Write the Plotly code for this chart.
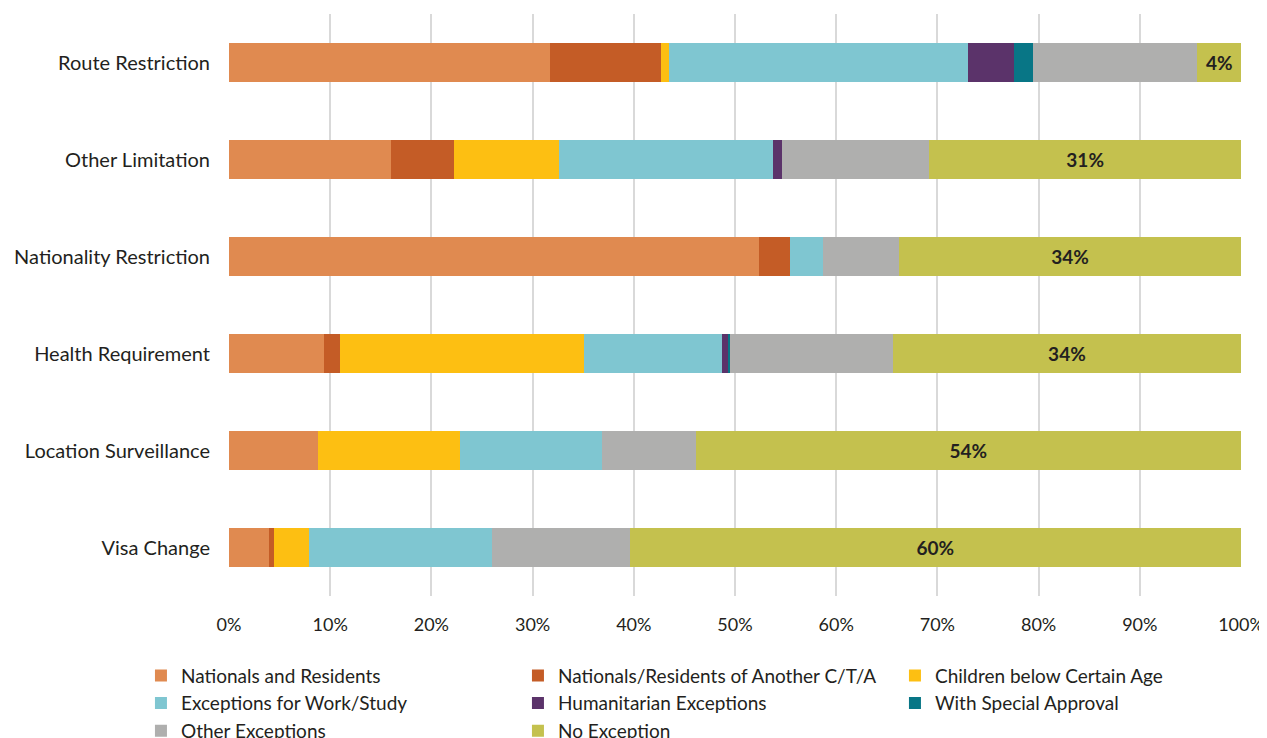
import plotly.graph_objects as go

categories = ["Route Restriction", "Other Limitation", "Nationality Restriction",
              "Health Requirement", "Location Surveillance", "Visa Change"]

series_names = ["Nationals and Residents", "Nationals/Residents of Another C/T/A",
                "Children below Certain Age", "Exceptions for Work/Study",
                "Humanitarian Exceptions", "With Special Approval",
                "Other Exceptions", "No Exception"]

nationals_residents = [31.7, 16.0, 52.4, 9.4, 8.8, 4.0]
nationals_other = [11.0, 6.2, 3.0, 1.6, 0.0, 0.4]
children = [0.8, 10.4, 0.0, 24.1, 14.0, 3.5]
work_study = [29.5, 21.2, 3.3, 13.6, 14.1, 18.1]
humanitarian = [4.6, 0.8, 0.0, 0.6, 0.0, 0.0]
special_approval = [1.8, 0.0, 0.0, 0.2, 0.0, 0.0]
other_exceptions = [16.3, 14.6, 7.5, 16.1, 9.2, 13.6]
no_exception = [4.3, 30.8, 33.8, 34.4, 53.9, 60.4]

colors = ["#E08A50", "#C45C26", "#FDBF12", "#7FC6D1",
          "#5B336A", "#087686", "#AFAFAE", "#C4C14E"]

all_series = [nationals_residents, nationals_other, children, work_study,
              humanitarian, special_approval, other_exceptions, no_exception]

FONT = "Lato, 'Open Sans', sans-serif"

fig = go.Figure()
for name, vals, col in zip(series_names, all_series, colors):
    kw = {}
    if name == "No Exception":
        kw = dict(
            text=[f"{round(v)}%" for v in vals],
            textposition="inside",
            insidetextanchor="middle",
            textangle=0,
            textfont=dict(family=FONT, size=19, color="#231F20", weight="bold"),
        )
    fig.add_trace(go.Bar(
        y=categories, x=vals, name=name, orientation="h",
        marker=dict(color=col, line=dict(width=0)),
        width=0.41, hoverinfo="x+name", **kw
    ))

# page body has an 8px margin, so the figure is offset by 8px
fig.update_layout(
    barmode="stack",
    width=1259, height=730,
    plot_bgcolor="white", paper_bgcolor="white",
    margin=dict(l=221, r=26, t=6, b=142, autoexpand=False),
    font=dict(family=FONT, size=19, color="#231F20"),
    uniformtext=dict(minsize=19, mode="show"),
    legend=dict(
        orientation="h",
        x=-0.087, xanchor="left",
        y=-0.104, yanchor="top",
        entrywidth=332,
        itemwidth=30,
        traceorder="normal",
        font=dict(family=FONT, size=19, color="#231F20"),
        tracegroupgap=0,
    ),
    xaxis=dict(
        range=[0, 100],
        tickvals=[0, 10, 20, 30, 40, 50, 60, 70, 80, 90, 100],
        ticktext=[f"{v}%" for v in range(0, 101, 10)],
        showgrid=True, gridcolor="#D9D9D9", gridwidth=1.5,
        zeroline=False,
        ticks="outside", ticklen=12, tickcolor="rgba(0,0,0,0)",
        tickfont=dict(family=FONT, size=18),
        fixedrange=True,
    ),
    yaxis=dict(
        categoryorder="array", categoryarray=categories[::-1],
        ticks="outside", ticklen=14, tickcolor="rgba(0,0,0,0)",
        tickfont=dict(family=FONT, size=20),
        showgrid=False,
        fixedrange=True,
    ),
)

fig.write_html("out.html")
